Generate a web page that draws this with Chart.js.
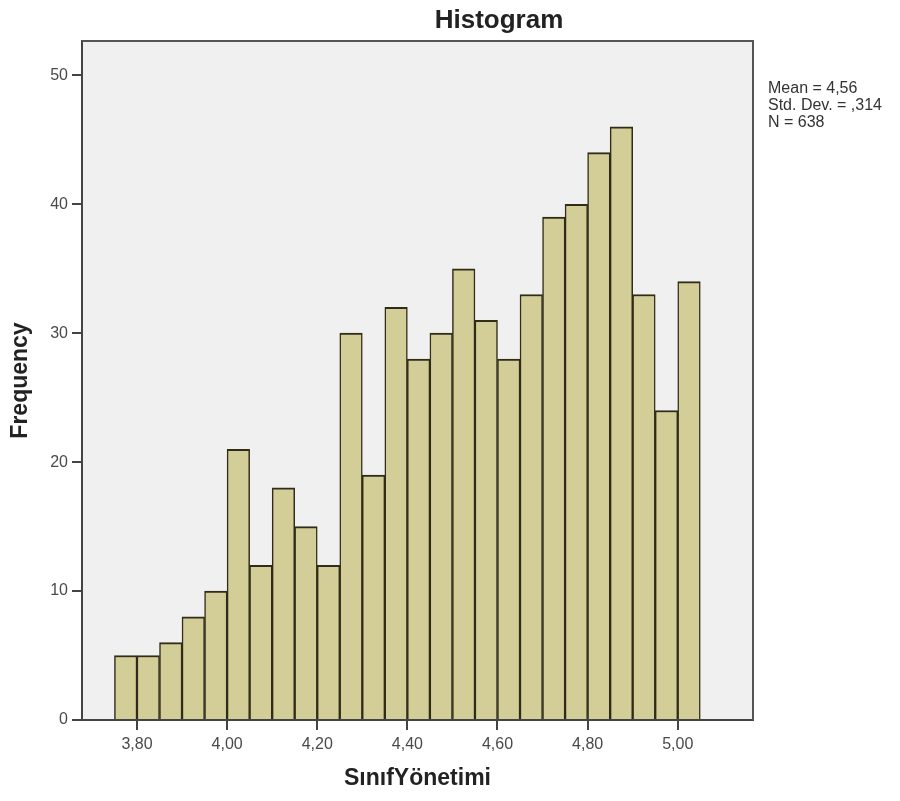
<!DOCTYPE html>
<html>
<head>
<meta charset="utf-8">
<title>Histogram</title>
<script src="https://cdn.jsdelivr.net/npm/chart.js@4/dist/chart.umd.min.js"></script>
<style>
  html, body { margin: 0; padding: 0; background: #fff; }
  canvas { display: block; }
</style>
</head>
<body>
<canvas id="histCanvas" width="900" height="801"></canvas>
<script>
// bin centres (bin width 0,05) and frequencies
const binCenters = [3.775, 3.825, 3.875, 3.925, 3.975, 4.025, 4.075, 4.125, 4.175, 4.225,
                    4.275, 4.325, 4.375, 4.425, 4.475, 4.525, 4.575, 4.625, 4.675, 4.725,
                    4.775, 4.825, 4.875, 4.925, 4.975, 5.025];
const frequencies = [5, 5, 6, 8, 10, 21, 12, 18, 15, 12,
                     30, 19, 32, 28, 30, 35, 31, 28, 33, 39,
                     40, 44, 46, 33, 24, 34];
const xTicks = [3.8, 4.0, 4.2, 4.4, 4.6, 4.8, 5.0];
const yTicks = [0, 10, 20, 30, 40, 50];
const statLines = ['Mean = 4,56', 'Std. Dev. = ,314', 'N = 638'];

(function() {
  'use strict';

  const FONT = "'Liberation Sans', Arial, sans-serif";
  Chart.defaults.font.family = FONT;

  const ctx = document.getElementById('histCanvas');

  // plot background, frame, title and stats box
  const decor = {
    id: 'decor',
    beforeDraw(chart) {
      const a = chart.chartArea;
      const c = chart.ctx;
      c.save();
      c.fillStyle = '#f0f0f0';
      c.fillRect(a.left, a.top, a.right - a.left, a.bottom - a.top);
      c.restore();
    },
    afterDraw(chart) {
      const a = chart.chartArea;
      const c = chart.ctx;
      c.save();
      c.strokeStyle = '#555';
      c.lineWidth = 2;
      c.beginPath();
      c.moveTo(a.left, a.top);
      c.lineTo(a.right, a.top);
      c.lineTo(a.right, a.bottom);
      c.stroke();

      c.fillStyle = '#222';
      c.font = 'bold 26px ' + FONT;
      c.textAlign = 'center';
      c.textBaseline = 'alphabetic';
      c.fillText('Histogram', 499, 28);

      c.fillStyle = '#333';
      c.font = '16px ' + FONT;
      c.textAlign = 'left';
      statLines.forEach(function(t, i) {
        c.fillText(t, 768, 93 + i * 17);
      });
      c.restore();
    }
  };

  new Chart(ctx, {
    type: 'bar',
    data: {
      datasets: [{
        label: 'Frequency',
        data: binCenters.map(function(x, i) { return { x: x, y: frequencies[i] }; }),
        backgroundColor: '#d3ce97',
        borderColor: '#302c18',
        borderWidth: { top: 2, left: 1.5, right: 1.5, bottom: 0 },
        borderSkipped: false,
        barPercentage: 1,
        categoryPercentage: 1,
      }]
    },
    options: {
      responsive: false,
      animation: false,
      layout: { padding: { left: 0, top: 41, right: 147, bottom: 0 } },
      plugins: {
        legend: { display: false },
        tooltip: { enabled: false },
      },
      scales: {
        x: {
          type: 'linear',
          min: 3.678,
          max: 5.167,
          offset: false,
          afterBuildTicks: function(scale) {
            scale.ticks = xTicks.map(function(v) { return { value: v }; });
          },
          afterFit: function(scale) { scale.height = 81; },
          grid: {
            drawOnChartArea: false,
            drawTicks: true,
            tickLength: 10,
            color: '#444',
            lineWidth: 2,
            offset: false,
          },
          border: { display: true, color: '#444', width: 2 },
          ticks: {
            padding: 5,
            maxRotation: 0,
            autoSkip: false,
            color: '#4a4a4a',
            font: { size: 16 },
            callback: function(v) { return v.toFixed(2).replace('.', ','); }
          },
          title: {
            display: true,
            text: 'SınıfYönetimi',
            color: '#222',
            font: { size: 23, weight: 'bold' },
            padding: { top: 0, bottom: 9 },
          }
        },
        y: {
          min: 0,
          max: 52.66,
          afterBuildTicks: function(scale) {
            scale.ticks = yTicks.map(function(v) { return { value: v }; });
          },
          afterFit: function(scale) { scale.width = 82; },
          grid: {
            drawOnChartArea: false,
            drawTicks: true,
            tickLength: 10,
            color: '#444',
            lineWidth: 2,
          },
          border: { display: true, color: '#444', width: 2 },
          ticks: {
            padding: 4,
            color: '#4a4a4a',
            font: { size: 16 },
          },
          title: {
            display: true,
            text: 'Frequency',
            color: '#222',
            font: { size: 23, weight: 'bold' },
            padding: { top: 7, bottom: 0 },
          }
        }
      }
    },
    plugins: [decor]
  });
})();
</script>
</body>
</html>
